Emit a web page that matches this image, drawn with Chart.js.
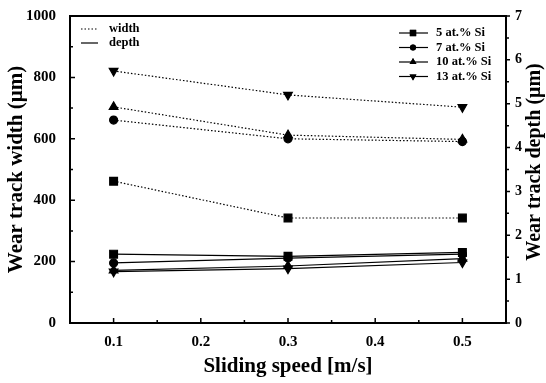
<!DOCTYPE html>
<html>
<head>
<meta charset="utf-8">
<script src="https://cdn.jsdelivr.net/npm/chart.js@4"></script>
<style>
  html, body { margin: 0; padding: 0; background: #fff; }
  #wrap { width: 546px; height: 383px; }
</style>
</head>
<body>
<div id="wrap"><canvas id="chart"></canvas></div>
<script>
// sliding speeds and series
const speeds = [0.1, 0.3, 0.5]
const seriesNames = ['5 at.% Si', '7 at.% Si', '10 at.% Si', '13 at.% Si']
const markers = ['rect', 'circle', 'triangle', 'triangle']
const rotations = [0, 0, 0, 180]
const radii = [5.5, 4, 5, 5]

const width5 = [462, 342, 342]
const width7 = [661, 600, 591]
const width10 = [704, 612, 598]
const width13 = [821, 743, 703]

const depth5 = [1.57, 1.52, 1.61]
const depth7 = [1.37, 1.48, 1.57]
const depth10 = [1.2, 1.3, 1.47]
const depth13 = [1.17, 1.24, 1.38]

const xTicks = [0.1, 0.2, 0.3, 0.4, 0.5]
const leftTicks = [0, 200, 400, 600, 800, 1000]
const rightTicks = [0, 1, 2, 3, 4, 5, 6, 7]

const widths = [width5, width7, width10, width13]
const depths = [depth5, depth7, depth10, depth13]

const serif = '"Liberation Serif", "DejaVu Serif", serif'

const datasets = []
widths.forEach((w, i) => {
  datasets.push({
    label: seriesNames[i] + ' width',
    data: speeds.map((s, j) => ({ x: s, y: w[j] })),
    yAxisID: 'y',
    borderColor: '#000',
    backgroundColor: '#000',
    borderWidth: 1.2,
    borderDash: [1.5, 2],
    pointStyle: markers[i],
    rotation: rotations[i],
    pointRadius: radii[i],
  })
})
depths.forEach((d, i) => {
  datasets.push({
    label: seriesNames[i] + ' depth',
    data: speeds.map((s, j) => ({ x: s, y: d[j] })),
    yAxisID: 'y1',
    borderColor: '#000',
    backgroundColor: '#000',
    borderWidth: 1.2,
    pointStyle: markers[i],
    rotation: rotations[i],
    pointRadius: radii[i],
  })
})

// frame, ticks, right title and the two legends
const decor = {
  id: 'decor',
  afterDraw(chart) {
    const { ctx, chartArea: a, scales } = chart
    ctx.save()
    ctx.strokeStyle = '#000'
    ctx.lineWidth = 2
    ctx.strokeRect(a.left, a.top, a.right - a.left, a.bottom - a.top)

    ctx.lineWidth = 1.5
    ctx.beginPath()
    for (let v = 0.05; v <= 0.55 + 1e-9; v += 0.05) {
      const px = scales.x.getPixelForValue(v)
      const major = xTicks.some(t => Math.abs(t - v) < 1e-6)
      ctx.moveTo(px, a.bottom)
      ctx.lineTo(px, a.bottom - (major ? 5 : 3))
    }
    for (let v = 0; v <= 1000; v += 100) {
      const py = scales.y.getPixelForValue(v)
      ctx.moveTo(a.left, py)
      ctx.lineTo(a.left + (v % 200 === 0 ? 5 : 3), py)
    }
    for (let v = 0; v <= 7; v += 0.5) {
      const py = scales.y1.getPixelForValue(v)
      ctx.moveTo(a.right, py)
      ctx.lineTo(a.right + (v % 1 === 0 ? 4 : 3), py)
    }
    ctx.stroke()

    // right axis title, reading bottom to top like the left one
    ctx.fillStyle = '#000'
    ctx.save()
    ctx.translate(535, 162)
    ctx.rotate(-Math.PI / 2)
    ctx.font = 'bold 20px ' + serif
    ctx.textAlign = 'center'
    ctx.textBaseline = 'middle'
    ctx.fillText('Wear track depth (\u03bcm)', 0, 0)
    ctx.restore()

    // left legend: line styles
    ctx.font = 'bold 12.5px ' + serif
    ctx.textBaseline = 'middle'
    ctx.lineWidth = 1.2
    ctx.setLineDash([1.5, 2])
    ctx.beginPath(); ctx.moveTo(81, 29); ctx.lineTo(98, 29); ctx.stroke()
    ctx.setLineDash([])
    ctx.beginPath(); ctx.moveTo(81, 43); ctx.lineTo(98, 43); ctx.stroke()
    ctx.fillText('width', 109, 29)
    ctx.fillText('depth', 109, 43)

    // right legend: markers
    seriesNames.forEach((name, i) => {
      const y = 33 + i * 14.5
      ctx.beginPath(); ctx.moveTo(399, y); ctx.lineTo(428, y); ctx.stroke()
      Chart.helpers.drawPoint(ctx, { pointStyle: markers[i], rotation: rotations[i], radius: radii[i] - 1 }, 413, y)
      ctx.fill()
      ctx.fillText(name, 436, y)
    })
    ctx.restore()
  }
}

new Chart(document.getElementById('chart'), {
  type: 'line',
  data: { datasets },
  options: {
    responsive: true,
    maintainAspectRatio: false,
    animation: false,
    layout: { padding: { top: 16, left: 0, right: 0, bottom: 0 } },
    plugins: { legend: { display: false }, tooltip: { enabled: false } },
    scales: {
      x: {
        type: 'linear',
        min: 0.05,
        max: 0.55,
        afterFit: s => { s.height = 60 },
        afterBuildTicks: s => { s.ticks = xTicks.map(v => ({ value: v })) },
        grid: { display: false },
        border: { display: false },
        ticks: { color: '#000', font: { family: serif, size: 15, weight: 'bold' }, padding: 2, callback: v => v.toFixed(1) },
        title: { display: true, text: 'Sliding speed [m/s]', color: '#000', font: { family: serif, size: 21, weight: 'bold' }, padding: { top: 6 } }
      },
      y: {
        position: 'left',
        min: 0,
        max: 1000,
        afterFit: s => { s.width = 70 },
        afterBuildTicks: s => { s.ticks = leftTicks.map(v => ({ value: v })) },
        grid: { display: false },
        border: { display: false },
        ticks: { color: '#000', font: { family: serif, size: 15, weight: 'bold' }, padding: 6, callback: v => String(v) },
        title: { display: true, text: 'Wear track width (\u03bcm)', color: '#000', font: { family: serif, size: 21, weight: 'bold' }, padding: { bottom: 0 } }
      },
      y1: {
        position: 'right',
        min: 0,
        max: 7,
        afterFit: s => { s.width = 40 },
        afterBuildTicks: s => { s.ticks = rightTicks.map(v => ({ value: v })) },
        grid: { display: false },
        border: { display: false },
        ticks: { color: '#000', font: { family: serif, size: 14, weight: 'bold' }, padding: 1 }
      }
    }
  },
  plugins: [decor]
})
</script>
</body>
</html>
